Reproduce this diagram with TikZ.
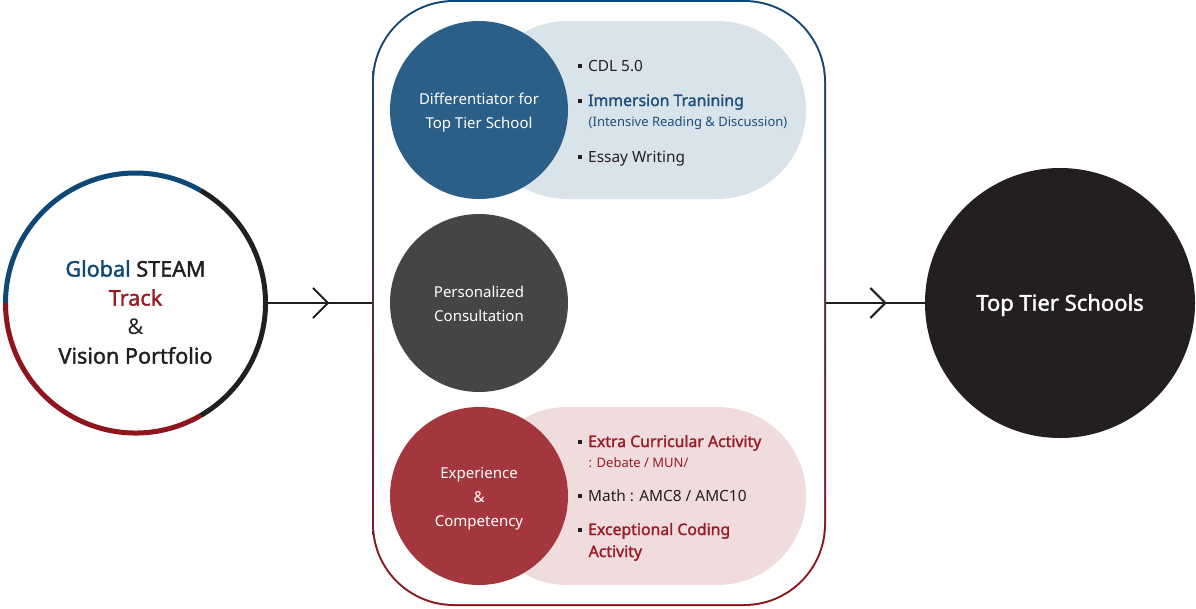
\documentclass[tikz,border=0pt]{standalone}
\usepackage{fontspec}
\setmainfont{Noto Sans}[AutoFakeBold=1.6]
\usetikzlibrary{positioning,decorations.markings}

\definecolor{ringblue}{HTML}{0E4876}
\definecolor{ringred}{HTML}{8F141C}
\definecolor{darktext}{HTML}{231F20}
\definecolor{diffblue}{HTML}{2C5F88}
\definecolor{pillblue}{HTML}{D9E4EA}
\definecolor{consgray}{HTML}{474543}
\definecolor{expred}{HTML}{A4363D}
\definecolor{pillred}{HTML}{F0DCDD}
\definecolor{textblue}{HTML}{1E4D7A}
\definecolor{textred}{HTML}{9A1B24}

\newcommand{\sqbul}{\textcolor{darktext}{\rule[0.22em]{4pt}{4pt}}\hspace{6pt}}

\tikzset{
  stage/.style={circle, minimum size=178pt, inner sep=0},
  stagetext/.style={align=center, text=white, inner sep=0, font=\fontsize{15}{24}\selectfont},
  item/.style={anchor=base west, inner sep=0, text=darktext, font=\fontsize{15.4}{18}\selectfont},
  bolditem/.style={item, font=\fontsize{15.8}{18}\selectfont\bfseries},
  subitem/.style={anchor=base west, inner sep=0, font=\fontsize{13}{16}\selectfont},
  flow/.style={line width=2pt, draw=darktext, postaction={decorate},
    decoration={markings, mark=at position #1 with {\draw[line width=2pt, darktext] (-15,-15) -- (0,0) -- (-15,15);}}}
}

\begin{document}
\begin{tikzpicture}[x=1pt,y=-1pt]
  \useasboundingbox (0,0) rectangle (1196,608);

  % outer program box (gradient border)
  \node[rounded corners=82pt, minimum width=454pt, minimum height=606pt,
    top color=ringblue, middle color=darktext!85!ringred, bottom color=ringred] (program) at (599,303) {};
  \node[rounded corners=80pt, minimum width=450pt, minimum height=602pt, fill=white] (inner) at (599,303) {};

  % left circle
  \node[circle, minimum size=260pt, inner sep=0] (portfolio) at (135.5,303) {};
  \node[align=center, text=darktext, font=\fontsize{21.6}{29}\selectfont\bfseries] (portfoliolabel)
    at ([yshift=-9pt]portfolio.center)
    {\textcolor{ringblue}{Global} STEAM\\ \textcolor{textred}{Track}\\ {\mdseries\&}\\ Vision Portfolio};
  \draw[line width=5pt, ringblue] (portfolio.center) ++(180:130) arc[start angle=180, end angle=300, radius=130];
  \draw[line width=5pt, darktext] (portfolio.center) ++(300:130) arc[start angle=300, end angle=420, radius=130];
  \draw[line width=5pt, ringred] (portfolio.center) ++(60:130) arc[start angle=60, end angle=180, radius=130];

  % right circle
  \node[circle, minimum size=270pt, inner sep=0, fill=darktext] (schools) at (1060,303) {};
  \node[text=white, inner sep=0, font=\fontsize{22}{26}\selectfont\bfseries] (schoolslabel)
    at ([yshift=-2pt]schools.center) {Top Tier Schools};

  % pills
  \fill[pillblue, rounded corners=88.5pt] (479,21) rectangle (806,199);
  \fill[pillred, rounded corners=88.5pt] (479,407) rectangle (806,585);

  % stages
  \node[stage, fill=diffblue] (diff) at (479,110) {};
  \node[stagetext] (difflabel) at ([yshift=-2.5pt]diff.center) {Differentiator for\\Top Tier School};
  \node[stage, fill=consgray] (consult) at (479,303) {};
  \node[stagetext] (consultlabel) at ([yshift=-1pt]consult.center) {Personalized\\Consultation};
  \node[stage, fill=expred] (exp) at (479,496) {};
  \node[stagetext] (explabel) at ([yshift=-2.5pt]exp.center) {Experience\\\&\\Competency};

  % top list
  \node[item] (cdl) at (578,71) {\sqbul CDL 5.0};
  \node[bolditem, text=textblue] (immersion) at (578,106) {\sqbul Immersion Tranining};
  \node[subitem, text=textblue] (reading) at (588.5,126) {(Intensive Reading \& Discussion)};
  \node[item] (essay) at (578,162) {\sqbul Essay Writing};

  % bottom list
  \node[bolditem, text=textred] (extra) at (578,447) {\sqbul Extra Curricular Activity};
  \node[subitem, text=textred] (debate) at (588.5,467) {: Debate / MUN/};
  \node[item] (math) at (578,501) {\sqbul Math : AMC8 / AMC10};
  \node[bolditem, text=textred] (coding) at (578,535) {\sqbul Exceptional Coding};
  \node[bolditem, text=textred] (coding2) at (588.5,557) {Activity};

  % arrows
  \draw[flow=0.587] (portfolio.east) -- (program.west);
  \draw[flow=0.6] (program.east) -- (schools.west);
\end{tikzpicture}
\end{document}
